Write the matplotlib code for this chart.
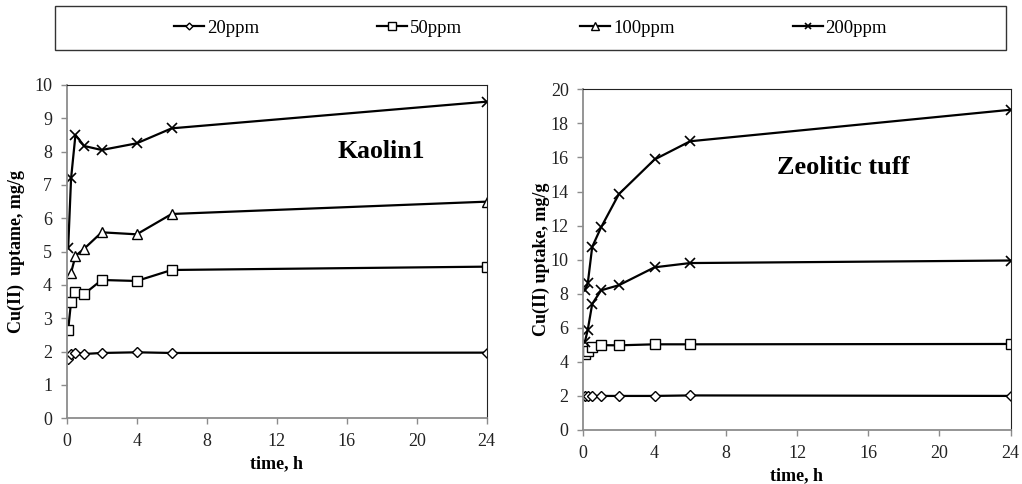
import matplotlib
matplotlib.use("Agg")
import matplotlib.pyplot as plt
from matplotlib.patches import Rectangle

plt.rcParams['font.family'] = ['Liberation Serif', 'DejaVu Serif']

# sampling times, h
times = [0.083, 0.25, 0.5, 1, 2, 4, 6, 24]
times_k100 = [0.25, 0.5, 1, 2, 4, 6, 24]

series_labels = ["20ppm", "50ppm", "100ppm", "200ppm"]

# Kaolin1 uptake, mg/g
kaolin_20 = [1.78, 1.94, 1.97, 1.93, 1.96, 1.98, 1.96, 1.97]
kaolin_50 = [2.65, 3.5, 3.78, 3.73, 4.15, 4.12, 4.45, 4.55]
kaolin_100 = [4.37, 4.87, 5.09, 5.58, 5.52, 6.13, 6.5]
kaolin_200 = [5.1, 7.2, 8.5, 8.17, 8.05, 8.25, 8.7, 9.5]

# Zeolitic tuff uptake, mg/g
tuff_20 = [2.0, 2.0, 1.99, 2.0, 2.0, 2.0, 2.03, 2.0]
tuff_50 = [4.45, 4.65, 4.88, 4.98, 4.97, 5.03, 5.03, 5.05]
tuff_100 = [5.15, 5.88, 7.4, 8.2, 8.5, 9.55, 9.8, 9.95]
tuff_200 = [8.2, 8.6, 10.75, 11.9, 13.85, 15.88, 16.95, 18.8]

x_ticks = [0, 4, 8, 12, 16, 20, 24]

W, H = 1022, 484
fig = plt.figure(figsize=(W / 100, H / 100), dpi=100)

def ax_rect(x0, x1, ytop, ybot):
    return [x0 / W, 1 - ybot / H, (x1 - x0) / W, (ybot - ytop) / H]

ax1 = fig.add_axes(ax_rect(66.7, 486.7, 85, 418.3))
ax2 = fig.add_axes(ax_rect(583.3, 1010.7, 89.3, 430))

def style(marker):
    kw = dict(color='black', lw=1.6, markerfacecolor='white',
              markeredgecolor='black', markeredgewidth=1.0, marker=marker)
    if marker == 'D':
        kw['markersize'] = 5
    elif marker == 'x':
        kw['markersize'] = 7
        kw['markeredgewidth'] = 1.2
    else:
        kw['markersize'] = 7.5
    return kw

h20, = ax1.plot(times, kaolin_20, label=series_labels[0], **style('D'))
h50, = ax1.plot(times, kaolin_50, label=series_labels[1], **style('s'))
h100, = ax1.plot(times_k100, kaolin_100, label=series_labels[2], **style('^'))
h200, = ax1.plot(times, kaolin_200, label=series_labels[3], **style('x'))

ax2.plot(times, tuff_20, **style('D'))
ax2.plot(times, tuff_50, **style('s'))
ax2.plot(times, tuff_100, **style('x'))
ax2.plot(times, tuff_200, **style('x'))

for ax, ymax, ystep in ((ax1, 10, 1), (ax2, 20, 2)):
    ax.set_xlim(0, 24)
    ax.set_ylim(0, ymax)
    ax.set_xticks(x_ticks)
    ax.set_yticks(range(0, ymax + 1, ystep))
    ax.tick_params(axis='both', direction='out', length=4, width=1.0,
                   color='#8c8c8c', labelsize=13, pad=6.5)
    for side in ('left', 'bottom'):
        ax.spines[side].set_color('#8c8c8c')
        ax.spines[side].set_linewidth(1.3)
    for side in ('top', 'right'):
        ax.spines[side].set_color('#222222')
        ax.spines[side].set_linewidth(0.8)
    ax.set_xlabel('time, h', fontsize=13, fontweight='bold', labelpad=4)
    for lbl in ax.get_xticklabels() + ax.get_yticklabels():
        lbl.set_color('#222222')

ax1.set_ylabel('Cu(II)  uptame, mg/g', fontsize=13, fontweight='bold')
ax2.set_ylabel('Cu(II) uptake, mg/g', fontsize=13, fontweight='bold')
ax1.yaxis.set_label_coords(-0.099, 0.5)
ax2.yaxis.set_label_coords(-0.078, 0.5)

ax1.text(18, 8, 'Kaolin1', fontsize=18.5, fontweight='bold',
         ha='center', va='center')
ax2.text(14.6, 15.4, 'Zeolitic tuff', fontsize=19, fontweight='bold',
         ha='center', va='center')

# legend box across the top
fig.add_artist(Rectangle((55 / W, 1 - 50 / H), (1006 - 55) / W, 44 / H,
                         transform=fig.transFigure, fill=False,
                         edgecolor='#333333', lw=1.0))
fig.legend(handles=[h20, h50, h100, h200], loc='center',
           bbox_to_anchor=(530.5 / W, 1 - 28 / H), ncol=4, frameon=False,
           fontsize=13.5, handlelength=1.6, handletextpad=0.15,
           columnspacing=6.3, markerscale=0.7)

fig.savefig('out.png', dpi=100)
